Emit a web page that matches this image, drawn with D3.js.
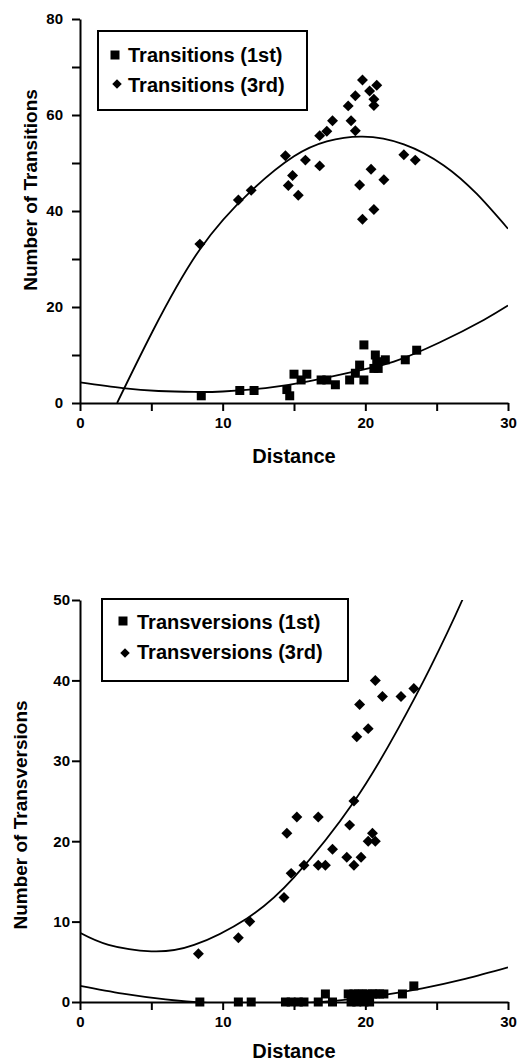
<!DOCTYPE html>
<html>
<head>
<meta charset="utf-8">
<script src="https://cdn.jsdelivr.net/npm/d3@7"></script>
<style>
  body { margin: 0; background: #fff; }
  text { font-family: "Liberation Sans", Arial, Helvetica, sans-serif; font-weight: bold; fill: #000; }
</style>
</head>
<body>
<div class="chart"></div>
<script>
const w = 518;
const h = 1063;

// x axis (Distance) – shared by both panels
const distTicks = [0, 5, 10, 15, 20, 25, 30];
const distLabels = [0, 10, 20, 30];

// y axes
const transitionTicks = [0, 10, 20, 30, 40, 50, 60, 70, 80];
const transitionLabels = [0, 20, 40, 60, 80];
const transversionTicks = [0, 10, 20, 30, 40, 50];
const transversionLabels = [0, 10, 20, 30, 40, 50];

// [distance, count]
const transitions1st = [
  [8.5, 1.5], [11.2, 2.6], [12.2, 2.6], [14.5, 2.8], [14.7, 1.5], [15.0, 6.0],
  [15.5, 4.8], [15.9, 6.0], [16.9, 4.8], [17.3, 4.8], [17.9, 3.8], [18.9, 4.8],
  [19.3, 6.2], [19.6, 7.9], [19.9, 12.1], [19.9, 4.8], [20.6, 7.2], [20.7, 10.0],
  [20.8, 8.6], [20.9, 7.2], [21.4, 9.0], [22.8, 9.0], [23.6, 11.0]
];
const transitions3rd = [
  [8.4, 33.1], [11.1, 42.3], [12.0, 44.3], [14.4, 51.5], [14.6, 45.3], [14.9, 47.4],
  [15.3, 43.3], [15.8, 50.6], [16.8, 49.4], [16.8, 55.7], [17.3, 56.6], [17.7, 58.8],
  [18.8, 61.9], [19.0, 58.8], [19.3, 56.7], [19.3, 64.0], [19.6, 45.4], [19.8, 38.3],
  [19.8, 67.3], [20.3, 65.0], [20.4, 48.7], [20.6, 40.3], [20.6, 62.0], [20.6, 63.3],
  [20.8, 66.2], [21.3, 46.5], [22.7, 51.7], [23.5, 50.6]
];
const transitions1stFit = [
  [0, 4.3], [3, 3.1], [5.5, 2.5], [8, 2.3], [10, 2.4], [13, 3.1], [16, 4.5],
  [19.6, 6.8], [22, 8.6], [25.2, 12.6], [28.3, 17.3], [30, 20.3]
];
const transitions3rdFit = [
  [2.6, 0], [5.1, 15.0], [8.4, 32.0], [12, 44.2], [15, 51.4], [17.3, 54.5],
  [19.8, 55.5], [22.7, 53.9], [25.5, 49.5], [27.8, 43.6], [30, 36.3]
];

const transversions1st = [
  [8.4, 0], [11.1, 0], [12.0, 0], [14.4, 0], [14.8, 0], [15.3, 0], [15.7, 0],
  [16.7, 0], [17.2, 1], [17.7, 0], [18.8, 1], [19.0, 0], [19.2, 1], [19.4, 0],
  [19.5, 1], [19.8, 1], [19.9, 0], [20.1, 1], [20.3, 0], [20.5, 1], [20.7, 1],
  [21.0, 1], [21.3, 1], [22.6, 1], [23.4, 2]
];
const transversions3rd = [
  [8.3, 6], [11.1, 8], [11.9, 10], [14.3, 13], [14.5, 21], [14.8, 16], [15.2, 23],
  [15.7, 17], [16.7, 23], [16.7, 17], [17.2, 17], [17.7, 19], [18.7, 18], [18.9, 22],
  [19.2, 25], [19.2, 17], [19.4, 33], [19.6, 37], [19.7, 18], [20.2, 20], [20.2, 34],
  [20.5, 21], [20.7, 20], [20.7, 40], [21.2, 38], [22.5, 38], [23.4, 39]
];
const transversions1stFit = [
  [0, 2.0], [3, 1.03], [6, 0.32], [9, -0.12], [12, -0.29], [15, -0.19], [18, 0.17],
  [21, 0.8], [24, 1.7], [27, 2.87], [30, 4.3]
];
const transversions3rdFit = [
  [0, 8.6], [2, 7.1], [5, 6.3], [8, 7.1], [11.7, 10.4], [15, 15.5], [19.2, 24.9],
  [22.3, 34.0], [24.5, 41.4], [26.8, 50.0], [28, 55.3]
];

const svg = d3.select(".chart").append("svg").attr("width", w).attr("height", h);

const square = d3.symbol().type(d3.symbolSquare).size(81)();
const diamond = d3.symbol().type(d3.symbolSquare).size(60)();

function panel(p) {
  const x = d3.scaleLinear().domain([0, 30]).range([80, 508]);
  const y = d3.scaleLinear().domain(p.yDomain).range([p.y0, p.y1]);
  const g = svg.append("g");

  // clip for the fitted curves
  g.append("clipPath").attr("id", p.id)
    .append("rect").attr("x", 80).attr("y", p.y1).attr("width", 428).attr("height", p.y0 - p.y1);

  const xAxis = d3.axisBottom(x).tickValues(distTicks).tickSize(8).tickSizeOuter(0).tickPadding(6)
    .tickFormat(d => distLabels.includes(d) ? d : "");
  const yAxis = d3.axisLeft(y).tickValues(p.yTicks).tickSize(8).tickSizeOuter(0).tickPadding(p.yPad)
    .tickFormat(d => p.yLabels.includes(d) ? d : "");

  const gx = g.append("g").attr("transform", "translate(0," + p.y0 + ")").call(xAxis);
  const gy = g.append("g").attr("transform", "translate(80,0)").call(yAxis);
  [gx, gy].forEach(a => {
    a.attr("font-size", 15).attr("font-family", null);
    a.select(".domain").attr("stroke-width", 2);
    a.selectAll(".tick line").attr("stroke-width", 2);
  });

  const line = d3.line().x(d => x(d[0])).y(d => y(d[1])).curve(d3.curveNatural);
  [p.fit1, p.fit3].forEach(f => {
    g.append("path").datum(f).attr("d", line)
      .attr("fill", "none").attr("stroke", "#000").attr("stroke-width", 1.8)
      .attr("clip-path", "url(#" + p.id + ")");
  });

  g.selectAll(".sq").data(p.first).enter().append("path").attr("class", "sq")
    .attr("d", square).attr("transform", d => "translate(" + x(d[0]) + "," + y(d[1]) + ")");
  g.selectAll(".dm").data(p.third).enter().append("path").attr("class", "dm")
    .attr("d", diamond).attr("transform", d => "translate(" + x(d[0]) + "," + y(d[1]) + ") rotate(45)");

  g.append("text").attr("x", 294).attr("y", p.y0 + p.xTitleDy).attr("text-anchor", "middle")
    .attr("font-size", 20).text("Distance");
  g.append("text").attr("transform", "translate(" + p.titleX + "," + p.titleY + ") rotate(-90)")
    .attr("text-anchor", "middle").attr("font-size", 19).text(p.title);

  // legend
  const lg = g.append("g");
  lg.append("rect").attr("x", p.box[0]).attr("y", p.box[1]).attr("width", p.box[2]).attr("height", p.box[3])
    .attr("fill", "#fff").attr("stroke", "#000").attr("stroke-width", 2);
  lg.append("path").attr("d", square).attr("transform", "translate(" + p.mark1[0] + "," + p.mark1[1] + ")");
  lg.append("path").attr("d", d3.symbol().type(d3.symbolSquare).size(45)())
    .attr("transform", "translate(" + p.mark3[0] + "," + p.mark3[1] + ") rotate(45)");
  p.names.forEach((n, i) => {
    lg.append("text").attr("x", p.textX).attr("y", p.textY[i]).attr("dy", "0.35em")
      .attr("font-size", 20).text(n);
  });
}

panel({
  id: "clipTop", yDomain: [0, 80], y0: 403, y1: 19,
  yTicks: transitionTicks, yLabels: transitionLabels, yPad: 9,
  first: transitions1st, third: transitions3rd,
  fit1: transitions1stFit, fit3: transitions3rdFit,
  title: "Number of Transitions", titleX: 37, titleY: 190, xTitleDy: 60,
  box: [98, 31, 209, 79], mark1: [115, 55], mark3: [117, 84], textX: 128, textY: [55, 85],
  names: ["Transitions (1st)", "Transitions (3rd)"]
});

panel({
  id: "clipBottom", yDomain: [0, 50], y0: 1002, y1: 600,
  yTicks: transversionTicks, yLabels: transversionLabels, yPad: 2,
  first: transversions1st, third: transversions3rd,
  fit1: transversions1stFit, fit3: transversions3rdFit,
  title: "Number of Transversions", titleX: 27, titleY: 815, xTitleDy: 56,
  box: [102, 599, 246, 82], mark1: [123, 621], mark3: [125, 653], textX: 137, textY: [622, 652],
  names: ["Transversions (1st)", "Transversions (3rd)"]
});
</script>
</body>
</html>
